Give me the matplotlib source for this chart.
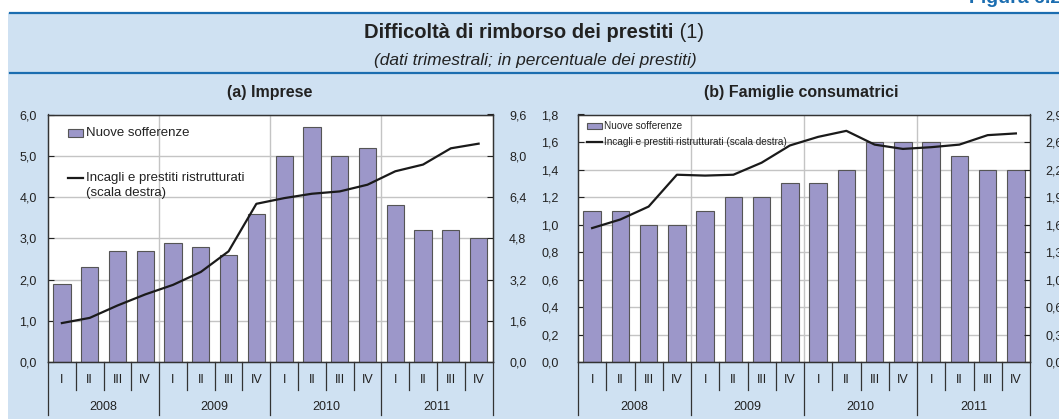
import matplotlib
matplotlib.use("Agg")
import matplotlib.pyplot as plt
from matplotlib.patches import Rectangle
from matplotlib.lines import Line2D
from matplotlib.text import Annotation
from matplotlib.ticker import FuncFormatter

plt.rcParams['font.family'] = ['Liberation Sans', 'DejaVu Sans']

# dati
trimestri = ['I', 'II', 'III', 'IV'] * 4
anni = ['2008', '2009', '2010', '2011']

imprese_sofferenze = [1.9, 2.3, 2.7, 2.7, 2.9, 2.8, 2.6, 3.6,
                      5.0, 5.7, 5.0, 5.2, 3.8, 3.2, 3.2, 3.0]
imprese_incagli = [1.52, 1.72, 2.2, 2.63, 3.0, 3.5, 4.3, 6.14,
                   6.36, 6.53, 6.62, 6.88, 7.4, 7.66, 8.29, 8.47]

famiglie_sofferenze = [1.1, 1.1, 1.0, 1.0, 1.1, 1.2, 1.2, 1.3,
                       1.3, 1.4, 1.6, 1.6, 1.6, 1.5, 1.4, 1.4]
famiglie_incagli = [1.56, 1.66, 1.81, 2.18, 2.17, 2.18, 2.32, 2.52,
                    2.62, 2.69, 2.53, 2.48, 2.50, 2.53, 2.64, 2.66]

SFONDO = '#cfe1f2'
BLU = '#1b6db0'
VIOLA = '#9c97c9'
GRIGLIA = '#c4c4c4'

W, H = 1059, 419
fig = plt.figure(figsize=(W / 100, H / 100), dpi=100)
fig.patch.set_facecolor('white')

# fondo azzurro e linee blu
fig.patches.append(Rectangle((8 / W, 0), 1, 1 - 13 / H, transform=fig.transFigure,
                             facecolor=SFONDO, edgecolor='none', zorder=-10))
fig.add_artist(Line2D([10 / W, 1], [1 - 13 / H] * 2, color=BLU, lw=1.6))
fig.add_artist(Line2D([10 / W, 1], [1 - 73 / H] * 2, color=BLU, lw=1.6))

fig.text(969 / W, 1 - 3 / H, 'Figura 6.2', color=BLU, fontsize=14,
         fontweight='bold', ha='left', va='baseline')

t = fig.text(0.490, 1 - 33 / H, 'Difficoltà di rimborso dei prestiti',
             fontsize=14.5, fontweight='bold', ha='center', va='center', color='#222222')
fig.add_artist(Annotation(' (1)', xy=(1, 0), xycoords=t, va='bottom', ha='left',
                          fontsize=14.5, color='#222222', annotation_clip=False))
fig.text(535 / W, 1 - 61 / H, '(dati trimestrali; in percentuale dei prestiti)',
         fontsize=12.5, style='italic', ha='center', va='center', color='#222222')


def fmt(v, pos):
    return f"{v:.1f}".replace('.', ',')


def pannello(left_px, right_px, titolo, titolo_x, sofferenze, incagli,
             ymax, ystep, y2max, y2step, pad_l, pad_r, legenda):
    top_px, bot_px = 114.5, 362.3
    ax = fig.add_axes([left_px / W, 1 - bot_px / H,
                       (right_px - left_px) / W, (bot_px - top_px) / H])
    ax.set_facecolor('white')
    x = list(range(len(sofferenze)))
    ax.bar(x, sofferenze, width=0.62, color=VIOLA, edgecolor='#555555',
           linewidth=0.8, zorder=2)
    ax.set_xlim(-0.5, len(x) - 0.5)
    ax.set_ylim(0, ymax)
    n = int(round(ymax / ystep))
    ax.set_yticks([i * ystep for i in range(n + 1)])
    ax.yaxis.set_major_formatter(FuncFormatter(fmt))
    ax.yaxis.grid(True, color=GRIGLIA, lw=1.0, zorder=0)
    ax.set_axisbelow(True)
    for b in [3.5, 7.5, 11.5]:
        ax.axvline(b, color=GRIGLIA, lw=1.0, zorder=0.5)
    ax.set_xticks([])
    ax.tick_params(axis='y', direction='in', length=4, pad=pad_l,
                   labelsize=9, colors='#222222', width=0.8)
    for s in ax.spines.values():
        s.set_color('#333333')
        s.set_linewidth(0.9)

    ax2 = ax.twinx()
    ax2.plot(x, incagli, color='#1a1a1a', lw=1.6, zorder=3)
    ax2.set_ylim(0, y2max)
    n2 = int(round(y2max / y2step))
    ax2.set_yticks([i * y2step for i in range(n2 + 1)])
    ax2.yaxis.set_major_formatter(FuncFormatter(fmt))
    ax2.tick_params(axis='y', direction='in', length=4, pad=pad_r,
                    labelsize=9, colors='#222222', width=0.8)
    for s in ax2.spines.values():
        s.set_color('#333333')
        s.set_linewidth(0.9)

    # asse categorie a due livelli
    tr = ax.get_xaxis_transform()
    for i, q in enumerate(trimestri):
        ax.text(i, -0.072, q, transform=tr, ha='center', va='center',
                fontsize=9, color='#222222')
    for i, a in enumerate(anni):
        ax.text(i * 4 + 1.5, -0.18, a, transform=tr, ha='center', va='center',
                fontsize=9, color='#222222')
    for k in range(len(x) + 1):
        b = k - 0.5
        y_end = -0.212 if k % 4 == 0 else -0.112
        ax.plot([b, b], [0, y_end], transform=tr, color='#333333', lw=0.9,
                clip_on=False)

    fig.text(titolo_x / W, 1 - 92 / H, titolo, fontsize=11.5, fontweight='bold',
             ha='center', va='center', color='#222222')
    legenda(ax)
    return ax


def legenda_a(ax):
    ax.add_patch(Rectangle((0.045, 0.908), 0.034, 0.033, transform=ax.transAxes,
                           facecolor=VIOLA, edgecolor='#555555', lw=0.8, zorder=5))
    ax.text(0.085, 0.925, 'Nuove sofferenze', transform=ax.transAxes,
            fontsize=9.5, va='center', color='#222222')
    ax.plot([0.045, 0.079], [0.744, 0.744], transform=ax.transAxes,
            color='#1a1a1a', lw=1.6)
    ax.text(0.085, 0.744, 'Incagli e prestiti ristrutturati', transform=ax.transAxes,
            fontsize=9.5, va='center', color='#222222')
    ax.text(0.085, 0.683, '(scala destra)', transform=ax.transAxes,
            fontsize=9.5, va='center', color='#222222')


def legenda_b(ax):
    ax.add_patch(Rectangle((0.020, 0.940), 0.033, 0.024, transform=ax.transAxes,
                           facecolor=VIOLA, edgecolor='#555555', lw=0.8, zorder=5))
    ax.text(0.058, 0.952, 'Nuove sofferenze', transform=ax.transAxes,
            fontsize=7.2, va='center', color='#222222')
    ax.plot([0.020, 0.053], [0.890, 0.890], transform=ax.transAxes,
            color='#1a1a1a', lw=1.6)
    ax.text(0.058, 0.890, 'Incagli e prestiti ristrutturati (scala destra)',
            transform=ax.transAxes, fontsize=7.2, va='center', color='#222222')


pannello(48, 492.5, '(a) Imprese', 270, imprese_sofferenze, imprese_incagli,
         6.0, 1.0, 9.6, 1.6, 8, 12, legenda_a)
pannello(578, 1030, '(b) Famiglie consumatrici', 801, famiglie_sofferenze,
         famiglie_incagli, 1.8, 0.2, 2.88, 0.32, 14, 11, legenda_b)

fig.savefig('out.png', dpi=100, facecolor=fig.get_facecolor())
